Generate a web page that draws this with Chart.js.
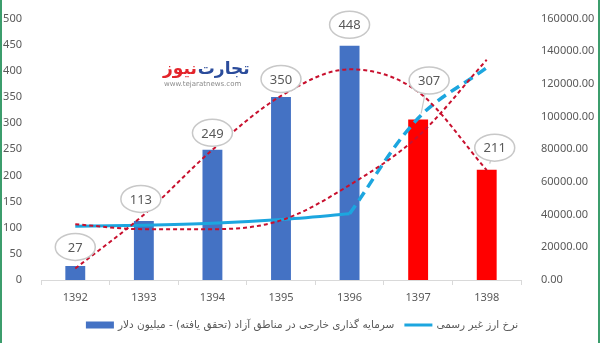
<!DOCTYPE html>
<html><head><meta charset="utf-8">
<script src="https://cdn.jsdelivr.net/npm/chart.js@4.4.0/dist/chart.umd.min.js"></script>
<style>html,body{margin:0;padding:0;background:#fff}#wrap{width:600px;height:343px;position:relative}</style>
</head><body><div id="wrap"><canvas id="c" width="600" height="343"></canvas></div>
<script>
const categories = ['1392', '1393', '1394', '1395', '1396', '1397', '1398'];
const investment = [27, 113, 249, 350, 448, 307, 211];
const investmentTrend = [22, 125, 249, 352, 403, 360, 210];
const rateSolid = [32900, 33500, 34700, 37000, 40500, null, null];
const rateDashed = [null, null, null, null, 40500, 99000, 130000];
const rateTrend = [34100, 31100, 31100, 36500, 58100, 88000, 134800];
const leftTicks = [0, 50, 100, 150, 200, 250, 300, 350, 400, 450, 500];
const rightTicks = [0, 20000, 40000, 60000, 80000, 100000, 120000, 140000, 160000];
const labelInvestment = 'سرمایه گذاری خارجی در مناطق آزاد (تحقق یافته) - میلیون دلار';
const labelRate = 'نرخ ارز غیر رسمی';

const BLUE = '#4472C4', RED = '#FF0000', CYAN = '#1CA6DF', TREND = '#C8102E', GREY = '#595959';
const barColors = investment.map((v, i) => i < 5 ? BLUE : RED);
const bubbleOffsets = [[0,-19],[-3,-22],[0,-17],[0,-18],[0,-21],[11,-39],[8,-22]];

const decor = {
  id: 'decor',
  afterDatasetsDraw(chart) {
    const ctx = chart.ctx;
    const meta = chart.getDatasetMeta(0);
    const rx = 20, ry = 13.5;
    ctx.save();
    meta.data.forEach((bar, i) => {
      const [dx, dy] = bubbleOffsets[i];
      const cx = bar.x + dx, cy = bar.y + dy;
      if (dx > 5) {
        ctx.beginPath();
        ctx.strokeStyle = '#c8c8c8';
        ctx.lineWidth = 1.2;
        ctx.moveTo(cx - 4, cy + ry - 1);
        ctx.lineTo(bar.x + 3, bar.y - 6);
        ctx.stroke();
      }
      ctx.beginPath();
      ctx.ellipse(cx, cy, rx, ry, 0, 0, Math.PI * 2);
      ctx.fillStyle = '#fff';
      ctx.fill();
      ctx.strokeStyle = '#c8c8c8';
      ctx.lineWidth = 1.5;
      ctx.stroke();
      ctx.fillStyle = GREY;
      ctx.font = '13px "Noto Sans", sans-serif';
      ctx.textAlign = 'center';
      ctx.textBaseline = 'middle';
      ctx.fillText(String(investment[i]), cx, cy + 1);
    });
    ctx.restore();
  },
  afterDraw(chart) {
    const ctx = chart.ctx;
    ctx.save();
    // logo: red word on the left, blue word on the right
    ctx.textBaseline = 'middle';
    ctx.textAlign = 'left';
    ctx.font = 'bold 17px "DejaVu Sans", sans-serif';
    const wN = ctx.measureText('نیوز').width;
    ctx.fillStyle = '#E3242B';
    ctx.fillText('نیوز', 163, 70);
    ctx.fillStyle = '#2B4C9B';
    ctx.fillText('تجارت', 163 + wN + 1, 70);
    ctx.font = '7px "DejaVu Sans", sans-serif';
    ctx.fillStyle = '#8a8a8a';
    ctx.fillText('www.tejaratnews.com', 164, 84);

    // legend
    ctx.font = '10.5px "DejaVu Sans", sans-serif';
    const w1 = ctx.measureText(labelInvestment).width;
    const w2 = ctx.measureText(labelRate).width;
    const sw = 28, g = 4, gap = 10;
    const total = sw + g + w1 + gap + sw + g + w2;
    let x = 302 - total / 2;
    const y = 325;
    ctx.fillStyle = BLUE;
    ctx.fillRect(x, y - 3.5, sw, 7);
    x += sw + g;
    ctx.direction = 'rtl';
    ctx.textAlign = 'right';
    ctx.fillStyle = GREY;
    ctx.fillText(labelInvestment, x + w1, y);
    x += w1 + gap;
    ctx.strokeStyle = CYAN;
    ctx.lineWidth = 3;
    ctx.beginPath();
    ctx.moveTo(x, y); ctx.lineTo(x + sw, y); ctx.stroke();
    x += sw + g;
    ctx.fillText(labelRate, x + w2, y);

    // frame
    ctx.fillStyle = '#3c9d6c';
    ctx.fillRect(0, 0, 2, 343);
    ctx.fillRect(598, 0, 2, 343);
    ctx.restore();
  }
};

new Chart(document.getElementById('c'), {
  data: {
    labels: categories,
    datasets: [
      { type: 'bar', label: labelInvestment, data: investment, backgroundColor: barColors,
        yAxisID: 'y', order: 10, barPercentage: 0.29, categoryPercentage: 1.0 },
      { type: 'line', label: labelRate, data: rateSolid, borderColor: CYAN, borderWidth: 3,
        pointRadius: 0, tension: 0.3, yAxisID: 'y1', order: 3, spanGaps: false },
      { type: 'line', label: 'rateDashed', data: rateDashed, borderColor: CYAN, borderWidth: 3.5,
        borderDash: [10, 6], pointRadius: 0, tension: 0.35, yAxisID: 'y1', order: 2 },
      { type: 'line', label: 'investTrend', data: investmentTrend, borderColor: TREND, borderWidth: 2,
        borderDash: [4, 3], pointRadius: 0, cubicInterpolationMode: 'monotone', yAxisID: 'y', order: 1 },
      { type: 'line', label: 'rateTrend', data: rateTrend, borderColor: TREND, borderWidth: 2,
        borderDash: [4, 3], pointRadius: 0, cubicInterpolationMode: 'monotone', yAxisID: 'y1', order: 1 }
    ]
  },
  options: {
    responsive: false,
    animation: false,
    devicePixelRatio: 1,
    layout: { padding: { top: 13, left: 0, right: 0, bottom: 0 } },
    plugins: { legend: { display: false }, tooltip: { enabled: false } },
    scales: {
      x: {
        grid: { display: true, drawOnChartArea: false, drawTicks: true, tickLength: 5, color: '#d9d9d9', offset: true },
        border: { display: true, color: '#d9d9d9' },
        ticks: { color: GREY, font: { family: '"Noto Sans", sans-serif', size: 11 }, padding: 6 },
        afterFit(s) { s.height = 63; }
      },
      y: {
        position: 'left', min: 0, max: 500,
        afterBuildTicks(s) { s.ticks = leftTicks.map(v => ({ value: v })); },
        grid: { display: false }, border: { display: false },
        ticks: { color: GREY, font: { family: '"Noto Sans", sans-serif', size: 11 }, padding: 11 },
        afterFit(s) { s.width = 41; }
      },
      y1: {
        position: 'right', min: 0, max: 160000,
        afterBuildTicks(s) { s.ticks = rightTicks.map(v => ({ value: v })); },
        grid: { display: false }, border: { display: false },
        ticks: { color: GREY, font: { family: '"Noto Sans", sans-serif', size: 11 }, padding: 12,
          callback: v => Number(v).toFixed(2) },
        afterFit(s) { s.width = 79; }
      }
    }
  },
  plugins: [decor]
});
</script></body></html>
